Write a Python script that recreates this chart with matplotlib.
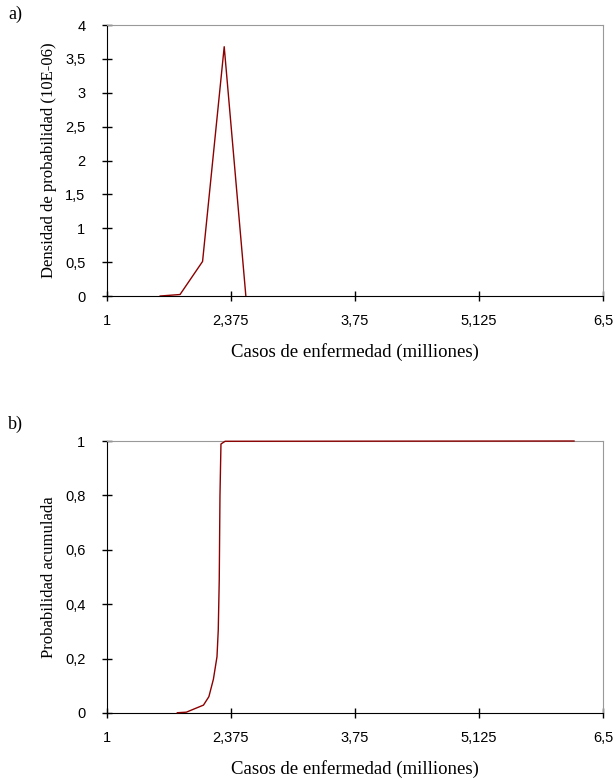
import matplotlib.pyplot as plt

# a) densidad de probabilidad (10E-06)
dens_x = [1.59, 1.81, 2.06, 2.30, 2.54]
dens_y = [0.0, 0.022, 0.51, 3.68, 0.0]

# b) probabilidad acumulada
cum_x = [1.78, 1.88, 1.96, 2.07, 2.13, 2.18, 2.22, 2.234, 2.245, 2.253, 2.264, 2.31, 6.18]
cum_y = [0.001, 0.003, 0.014, 0.029, 0.060, 0.124, 0.207, 0.305, 0.489, 0.799, 0.989, 0.999, 1.0]

x_ticks = [1, 2.375, 3.75, 5.125, 6.5]
x_labels = ["1", "2,375", "3,75", "5,125", "6,5"]
ya_ticks = [0, 0.5, 1, 1.5, 2, 2.5, 3, 3.5, 4]
ya_labels = ["0", "0,5", "1", "1,5", "2", "2,5", "3", "3,5", "4"]
yb_ticks = [0, 0.2, 0.4, 0.6, 0.8, 1]
yb_labels = ["0", "0,2", "0,4", "0,6", "0,8", "1"]

SERIF = "Liberation Serif"
SANS = "Liberation Sans"
LINE_COLOR = "#8b0000"

fig = plt.figure(figsize=(6.16, 7.8), dpi=100)
ax_a = fig.add_axes([0.1737, 0.6205, 0.805, 0.3474])
ax_b = fig.add_axes([0.1737, 0.0859, 0.805, 0.3487])


def style_axes(ax, yticks, ylabels, ylabel):
    """common look of both panels"""
    ax.set_xlim(1, 6.5)
    ax.set_ylim(yticks[0], yticks[-1])
    ax.set_xticks(x_ticks)
    ax.set_xticklabels(x_labels, family=SANS, fontsize=10.5)
    ax.set_yticks(yticks)
    ax.set_yticklabels(ylabels, family=SANS, fontsize=10.5)
    ax.tick_params(direction="inout", length=7, width=1)
    ax.tick_params(axis="x", pad=9.5)
    ax.tick_params(axis="y", pad=12)
    for side in ("top", "right"):
        ax.spines[side].set_color("#999999")
    for side in ("left", "bottom"):
        ax.spines[side].set_color("black")
    ax.set_xlabel("Casos de enfermedad (milliones)", family=SERIF,
                  fontsize=13.5, labelpad=11)
    ax.set_ylabel(ylabel, family=SERIF, fontsize=12, labelpad=6)


ax_a.plot(dens_x, dens_y, color=LINE_COLOR, linewidth=1, zorder=3)
style_axes(ax_a, ya_ticks, ya_labels, "Densidad de probabilidad (10E-06)")

ax_b.plot(cum_x, cum_y, color=LINE_COLOR, linewidth=1, zorder=3,
          clip_on=False)
style_axes(ax_b, yb_ticks, yb_labels, "Probabilidad acumulada")

fig.text(0.013, 0.993, "a)", family=SERIF, fontsize=13, va="top")
fig.text(0.013, 0.467, "b)", family=SERIF, fontsize=13, va="top")

fig.savefig("out.png", dpi=100)
